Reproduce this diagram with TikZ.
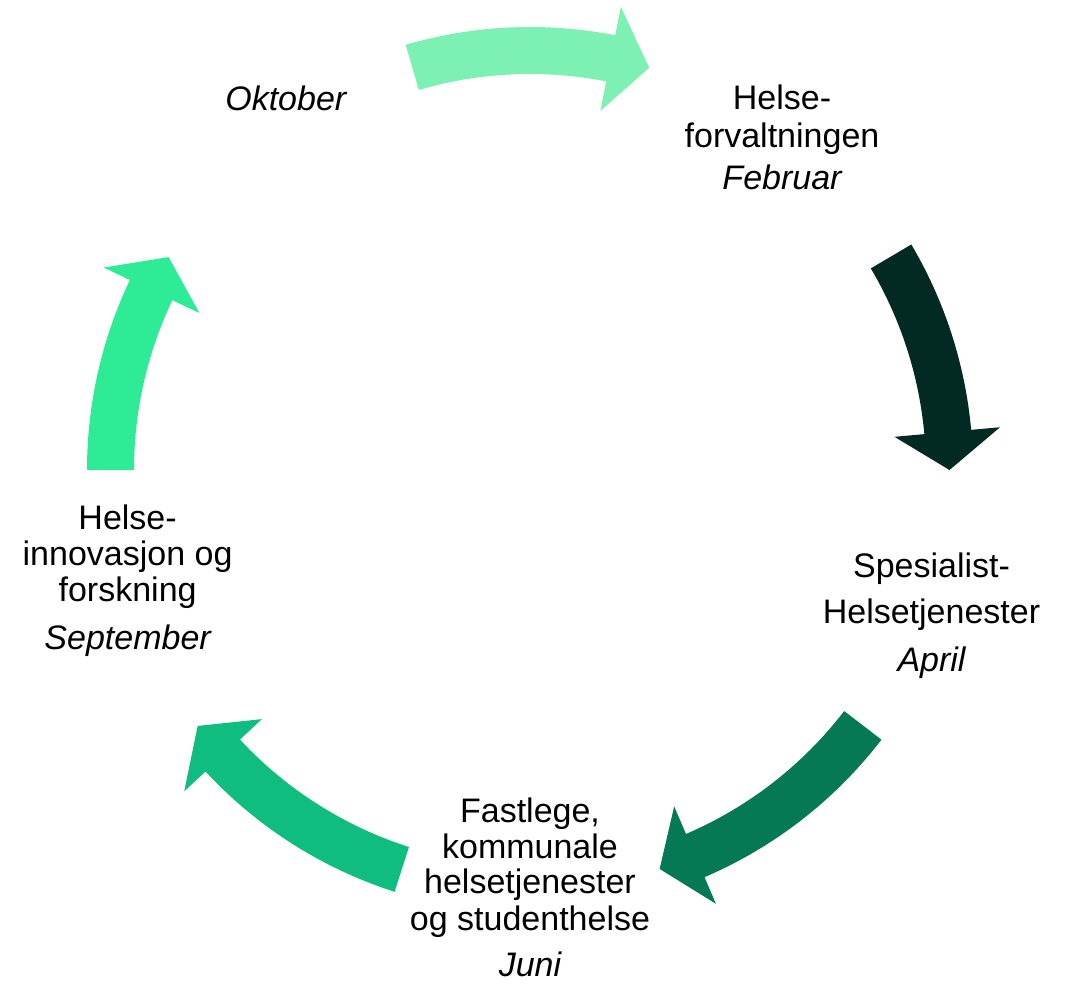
\documentclass[tikz,border=0pt]{standalone}
\usepackage{fontspec}
\setmainfont{Liberation Sans}
\usetikzlibrary{calc}
\definecolor{arrOkt}{HTML}{7DF0B4}
\definecolor{arrFeb}{HTML}{032A22}
\definecolor{arrApr}{HTML}{057856}
\definecolor{arrJun}{HTML}{0FBE7E}
\definecolor{arrSep}{HTML}{2EEB96}
\newcommand{\cycarrow}[4]{%
  \fill[#1] ($(C)+(#2:396)$) arc[start angle=#2, end angle=#3, radius=396]
    -- ($(C)+(#3:366)$) -- ($(C)+(#4:419.5)$) -- ($(C)+(#3:472)$)
    -- ($(C)+(#3:443)$) arc[start angle=#3, end angle=#2, radius=443] -- cycle;}
\begin{document}
\begin{tikzpicture}[x=1pt,y=1pt,
  lbl/.style={font=\fontsize{34}{36}\selectfont, align=center, anchor=base, inner sep=0pt}]
\useasboundingbox (0,0) rectangle (1071,983);
\fill[white] (0,0) rectangle (1071,983);
\coordinate (C) at (530,513);
% arrows
\cycarrow{arrOkt}{106.3}{78.9}{73.5}
\cycarrow{arrFeb}{30.6}{5.2}{0}
\cycarrow{arrApr}{-37.5}{-66.8}{-72}
\cycarrow{arrJun}{-107.8}{-137.1}{-142.4}
\cycarrow{arrSep}{180}{154.6}{149.5}
% labels (anchor base = baseline of the last line)
\node[lbl] (okt) at (285.8,872) {\itshape Oktober};
\node[lbl] (feb) at (782,793) {Helse-\\[2.4pt]forvaltningen\\[6.3pt]\itshape Februar};
\node[lbl] (apr) at (931.5,311.3) {Spesialist-\\[10pt]Helsetjenester\\[12.4pt]\itshape April};
\node[lbl] (jun) at (530,6.3) {Fastlege,\\kommunale\\helsetjenester\\og studenthelse\\[10.7pt]\itshape Juni};
\node[lbl] (sep) at (127.6,333) {Helse-\\innovasjon og\\forskning\\[12.3pt]\itshape September};
\end{tikzpicture}
\end{document}
